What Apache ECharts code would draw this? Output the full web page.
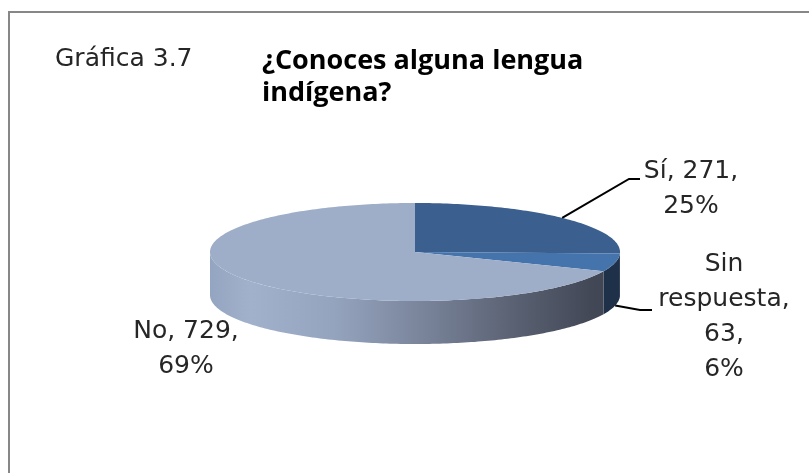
<!DOCTYPE html>
<html><head><meta charset="utf-8">
<script src="https://cdn.jsdelivr.net/npm/echarts@6.0.0/dist/echarts.min.js"></script>
<style>html,body{margin:0;padding:0;background:#fff}#c{width:809px;height:473px}</style>
</head><body><div id="c"></div>
<script>
// ---- data ----
const categories = ['Sí', 'Sin respuesta', 'No'];
const values = [271, 63, 729];
const chartNumber = 'Gráfica 3.7';
const chartTitle = '¿Conoces alguna lengua\nindígena?';

// ---- styles / layout ----
const topColors = ['#3B5F8F', '#4574AC', '#9EAEC8'];
const pie = { cx: 415, cy: 252, rx: 205, ry: 49, depth: 43, startAngle: -90 };
const labelFont = '25px "DejaVu Sans"';
const labelLH = 35;
const labelLayout = [
  { x: 691, y: 153.5, wrap: 'inline', leaderFrom: 'top', leader: [[629, 179], [640, 179]] },
  { x: 724, y: 246.5, wrap: 'split', leaderFrom: 'bottom', leader: [[640, 310], [652, 310]] },
  { x: 186, y: 313.5, wrap: 'inline', leaderFrom: null, leader: null }
];

const total = values.reduce((a, b) => a + b, 0);
const starts = [];
let acc = 0;
values.forEach(v => { starts.push(acc); acc += v; });
const deg = v => v / total * 360;
const rad = d => d * Math.PI / 180;
function pt(t, dy) {
  return [pie.cx + pie.rx * Math.cos(rad(t)), pie.cy + (dy || 0) + pie.ry * Math.sin(rad(t))];
}
function arcPts(a0, a1, dy) {
  const out = [];
  const n = Math.max(2, Math.ceil(Math.abs(a1 - a0)));
  for (let i = 0; i <= n; i++) out.push(pt(a0 + (a1 - a0) * i / n, dy));
  return out;
}
function sideFill(i) {
  if (i === 2) {
    return new echarts.graphic.LinearGradient(pie.cx - pie.rx, 0, pie.cx + pie.rx, 0, [
      { offset: 0, color: '#94A5C1' },
      { offset: 0.1, color: '#A2B1CB' },
      { offset: 0.3, color: '#95A4BE' },
      { offset: 0.5, color: '#7C879E' },
      { offset: 0.75, color: '#596071' },
      { offset: 0.93, color: '#424856' },
      { offset: 1, color: '#3E4452' }
    ], true);
  }
  if (i === 1) return '#1F3049';
  return '#2A4468';
}

function renderItem(params, api) {
  const i = params.dataIndex;
  const v = api.value(0);
  const a0 = pie.startAngle + deg(starts[i]);
  const a1 = a0 + deg(v);
  const children = [];
  // side (only the front half, 0..180 deg, is visible)
  const s0 = Math.max(a0, 0), s1 = Math.min(a1, 180);
  if (s1 > s0) {
    const pts = arcPts(s0, s1, 0).concat(arcPts(s1, s0, pie.depth));
    children.push({ type: 'polygon', shape: { points: pts }, style: { fill: sideFill(i) }, z2: 1 });
  }
  // top face
  const topPts = [[pie.cx, pie.cy]].concat(arcPts(a0, a1, 0));
  children.push({ type: 'polygon', shape: { points: topPts }, style: { fill: topColors[i] }, z2: 2 });
  // label
  const L = labelLayout[i];
  const pct = Math.round(v / total * 100);
  const name = categories[i];
  let lines;
  if (L.wrap === 'split') {
    const w = name.split(' ');
    w[w.length - 1] += ',';
    lines = w.concat([v + ',', pct + '%']);
  } else {
    lines = [name + ', ' + v + ',', pct + '%'];
  }
  children.push({
    type: 'text', z2: 5,
    style: { text: lines.join('\n'), x: L.x, y: L.y, font: labelFont, fill: '#262626',
      align: 'center', verticalAlign: 'top', lineHeight: labelLH }
  });
  if (L.leader) {
    const mid = (a0 + a1) / 2;
    const start = L.leaderFrom === 'bottom' ? pt(mid, pie.depth) : pt(mid, 0);
    children.push({ type: 'polyline', z2: 4, shape: { points: [start].concat(L.leader) },
      style: { stroke: '#000', lineWidth: 2, fill: null } });
  }
  return { type: 'group', children };
}

const chart = echarts.init(document.getElementById('c'), null, { renderer: 'canvas' });
chart.setOption({
  backgroundColor: '#ffffff',
  animation: false,
  title: [
    { text: chartNumber, left: 55, top: 44.5, padding: 0,
      textStyle: { fontFamily: 'DejaVu Sans', fontSize: 25, fontWeight: 'normal', color: '#262626', lineHeight: 30 } },
    { text: chartTitle, left: 262, top: 45.5, padding: 0,
      textStyle: { fontFamily: 'Open Sans', fontSize: 27, fontWeight: 'bold', color: '#000', lineHeight: 32 } }
  ],
  graphic: [
    { type: 'rect', shape: { x: 9, y: 12, width: 900, height: 600 }, style: { fill: null, stroke: '#878787', lineWidth: 2 }, silent: true }
  ],
  series: [{
    type: 'custom',
    coordinateSystem: 'none',
    renderItem: renderItem,
    data: values.map((v, i) => ({ name: categories[i], value: [v] }))
  }]
});
</script></body></html>
